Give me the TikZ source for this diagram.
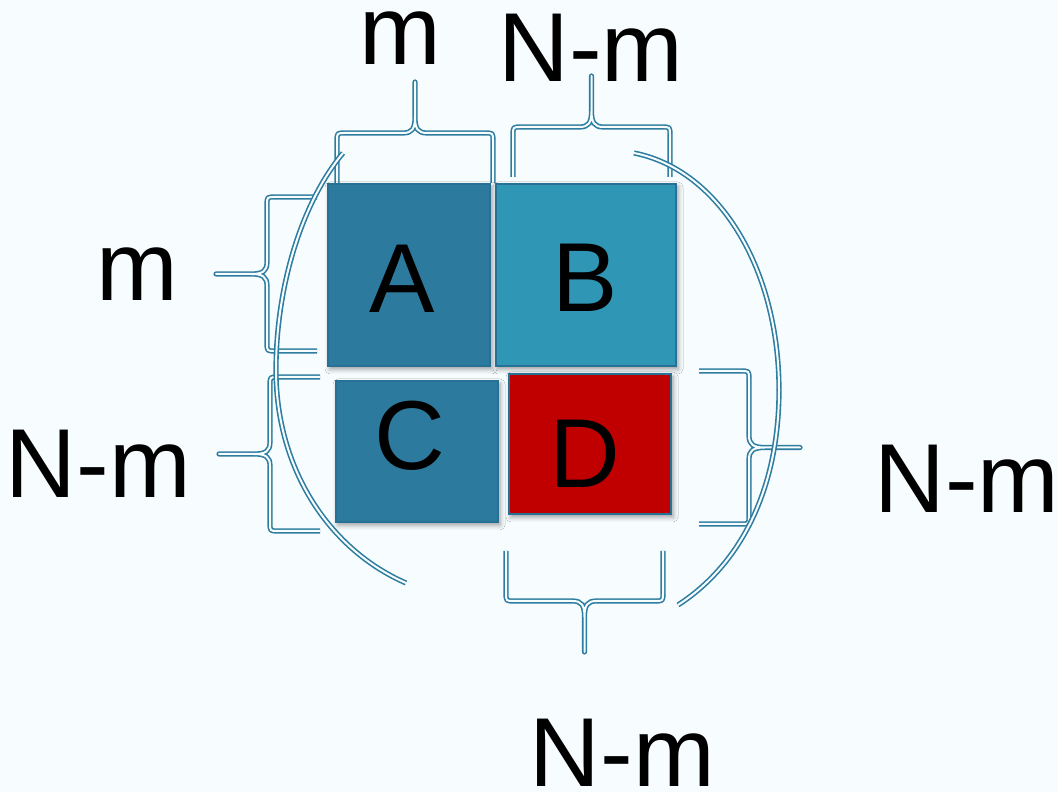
\documentclass[tikz,border=0pt]{standalone}
\usepackage{fontspec}
\setmainfont{Liberation Sans}
\usetikzlibrary{shadows.blur}

\definecolor{bg}{RGB}{247,252,254}
\definecolor{lineblue}{RGB}{46,125,160}
\definecolor{cellA}{RGB}{44,122,158}
\definecolor{cellB}{RGB}{48,150,182}
\definecolor{cellD}{RGB}{192,0,0}
\definecolor{edgeblue}{RGB}{40,112,148}

\tikzset{
  outline/.style={draw=lineblue, line width=1.6pt, double=bg,
    double distance=2pt, line join=round},
  cell/.style={draw=edgeblue, line width=1.5pt, inner sep=0pt,
    blur shadow={shadow xshift=2pt, shadow yshift=-3pt,
      shadow blur radius=5pt, shadow opacity=40}},
  letter/.style={font=\fontsize{98}{100}\selectfont, inner sep=0pt, anchor=base},
  % curly brace: open ends at (0,0) and (#1,0), tip pointing to +y
  curly/.pic={
    \draw[outline] (0,0) -- (0,42) .. controls (0,50) .. (8,50)
      -- ({#1/2-12},50) .. controls ({#1/2-3},50) and ({#1/2},54) .. ({#1/2},66)
      -- ({#1/2},101) -- ({#1/2},66)
      .. controls ({#1/2},54) and ({#1/2+3},50) .. ({#1/2+12},50)
      -- ({#1-8},50) .. controls (#1,50) .. (#1,42) -- (#1,0);
  }
}

\begin{document}
\begin{tikzpicture}[x=1pt,y=1pt]
  \useasboundingbox (0,0) rectangle (1058,792);
  \fill[bg] (0,0) rectangle (1058,792);

  % braces
  \pic (bTopM)   at (337,609) {curly=156};
  \pic (bTopNM)  at (513,615) {curly=157};
  \pic[rotate=90]  (bLeftM)  at (317,441) {curly=154};
  \pic[rotate=90]  (bLeftNM) at (320,261) {curly=154};
  \pic[rotate=-90] (bRight)  at (699,421) {curly=153};
  \pic[rotate=180] (bBottom) at (663,241) {curly=157};

  % large enclosing arcs
  \draw[outline] (343,639) .. controls (300,587) and (276,502) .. (276,422)
                 .. controls (276,322) and (330,242) .. (406,209);
  \draw[outline] (634,639) .. controls (720,622) and (779,522) .. (779,402)
                 .. controls (779,302) and (740,227) .. (678,187);

  % matrix blocks
  \node[cell, fill=cellA, minimum width=162, minimum height=182] (A) at (409,517) {};
  \node[cell, fill=cellB, minimum width=180, minimum height=182] (B) at (586,517) {};
  \node[cell, fill=cellA, minimum width=162, minimum height=141] (C) at (417,340.5) {};
  \node[cell, fill=cellD, minimum width=162, minimum height=140] (D) at (590,348) {};

  \node[letter] (tA) at (402,479) {A};
  \node[letter] (tB) at (585.5,480) {B};
  \node[letter] (tC) at (409.5,322) {C};
  \node[letter] (tD) at (584.5,304) {D};

  % dimension labels
  \node[letter] (lTopM)   at (400,727) {m};
  \node[letter] (lTopNM)  at (591,710) {N-m};
  \node[letter] (lLeftM)  at (137.5,491) {m};
  \node[letter] (lLeftNM) at (98.5,294) {N-m};
  \node[letter] (lRight)  at (967,279) {N-m};
  \node[letter] (lBottom) at (622.5,5) {N-m};
\end{tikzpicture}
\end{document}
